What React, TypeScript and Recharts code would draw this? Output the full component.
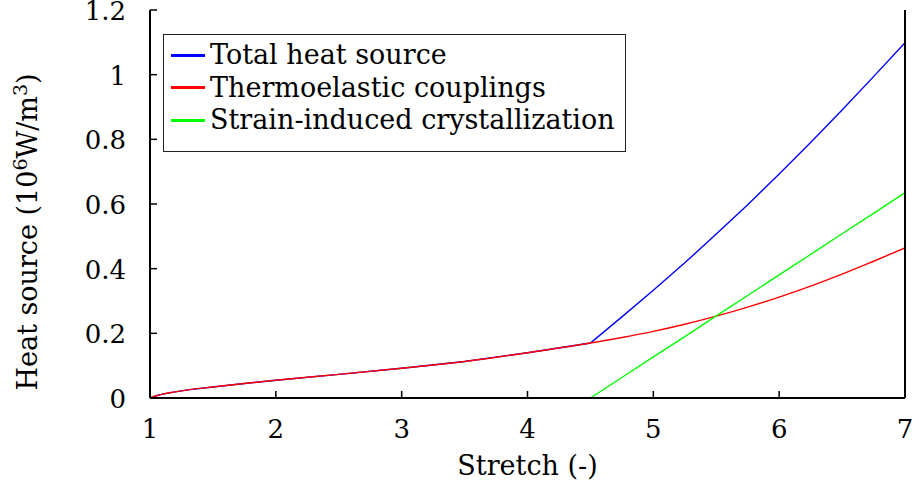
import React from 'react';
import { LineChart, Line, XAxis, YAxis, Legend } from 'recharts';

const stretch = [1, 1.05, 1.1, 1.2, 1.3, 1.5, 1.75, 2, 2.5, 3, 3.5, 4, 4.5, 4.75, 5, 5.25, 5.5, 5.75, 6, 6.25, 6.5, 6.75, 7];
const thermoelastic = [0, 0.007, 0.012, 0.019, 0.025, 0.034, 0.045, 0.055, 0.073, 0.092, 0.113, 0.14, 0.17, 0.187, 0.206, 0.228, 0.253, 0.281, 0.312, 0.346, 0.383, 0.423, 0.464];
const crystallization = [0, 0, 0, 0, 0, 0, 0, 0, 0, 0, 0, 0, 0, 0.0635, 0.127, 0.19, 0.254, 0.317, 0.381, 0.444, 0.508, 0.571, 0.635];
const totalHeat = [0, 0.007, 0.012, 0.019, 0.025, 0.034, 0.045, 0.055, 0.073, 0.092, 0.113, 0.14, 0.17, 0.251, 0.333, 0.418, 0.507, 0.598, 0.693, 0.79, 0.891, 0.994, 1.099];

const xTicks = [1, 2, 3, 4, 5, 6, 7];
const yTicks = [0, 0.2, 0.4, 0.6, 0.8, 1, 1.2];
const yTickLabels = ['0', '0.2', '0.4', '0.6', '0.8', '1', '1.2'];

const seriesNames = ['Total heat source', 'Thermoelastic couplings', 'Strain-induced crystallization'];

const data = stretch.map((s, i) => ({
  s,
  total: totalHeat[i],
  thermo: thermoelastic[i],
  sic: crystallization[i],
}));

const FONT = 'DejaVu Serif';

const LeftTick = (props: any) => {
  const { x, y, payload } = props;
  const lbl = yTickLabels[yTicks.indexOf(payload.value)] ?? String(payload.value);
  return (
    <g>
      <line x1={x} x2={x + 7} y1={y} y2={y} stroke="#000" strokeWidth={1.5} />
      <text x={x - 24} y={y + 10} textAnchor="end" fontFamily={FONT} fontSize={26} fill="#000">
        {lbl}
      </text>
    </g>
  );
};

const RightTick = (props: any) => {
  const { x, y } = props;
  return <line x1={x} x2={x - 7} y1={y} y2={y} stroke="#000" strokeWidth={1.5} />;
};

const BottomTick = (props: any) => {
  const { x, y, payload } = props;
  return (
    <g>
      <line x1={x} x2={x} y1={y} y2={y - 7} stroke="#000" strokeWidth={1.5} />
      <text x={x} y={y + 40} textAnchor="middle" fontFamily={FONT} fontSize={26} fill="#000">
        {payload.value}
      </text>
    </g>
  );
};

const TopTick = (props: any) => {
  const { x, y } = props;
  return <line x1={x} x2={x} y1={y} y2={y + 7} stroke="#000" strokeWidth={1.5} />;
};

const YLabel = () => (
  <text transform="translate(37, 232) rotate(-90)" textAnchor="middle" fontFamily={FONT} fontSize={27} fill="#000">
    Heat source (10
    <tspan dy={-10} fontSize={19}>6</tspan>
    <tspan dy={10}>W/m</tspan>
    <tspan dy={-10} fontSize={19}>3</tspan>
    <tspan dy={10}>)</tspan>
  </text>
);

const LegendBox = () => {
  const colors = ['#0000ff', '#ff0000', '#00ff00'];
  return (
    <div
      style={{
        width: 461,
        height: 112,
        border: '1.3px solid #222',
        background: '#fff',
        boxSizing: 'content-box',
        paddingTop: 4,
        fontFamily: FONT,
        fontSize: 27,
        color: '#000',
      }}
    >
      {seriesNames.map((n, i) => (
        <div key={n} style={{ display: 'flex', alignItems: 'center', height: 32.5, lineHeight: '32.5px' }}>
          <div style={{ width: 34, height: 3, background: colors[i], marginLeft: 7, marginRight: 5 }} />
          <span style={{ whiteSpace: 'nowrap' }}>{n}</span>
        </div>
      ))}
    </div>
  );
};

export default function App() {
  return (
    <div style={{ position: 'fixed', left: 0, top: 0, background: '#fff' }}>
      <LineChart width={919} height={485} data={data} margin={{ top: 10, right: 0, bottom: 0, left: 0 }}>
        <XAxis
          dataKey="s"
          type="number"
          domain={[1, 7]}
          ticks={xTicks}
          height={87}
          tickSize={0}
          tickMargin={0}
          tick={<BottomTick />}
          axisLine={{ stroke: '#000', strokeWidth: 2 }}
          tickLine={false}
          allowDataOverflow
          label={{ value: 'Stretch (-)', position: 'insideBottom', offset: 10, fontFamily: FONT, fontSize: 27, fill: '#000' }}
        />
        <XAxis
          xAxisId="t"
          dataKey="s"
          type="number"
          orientation="top"
          domain={[1, 7]}
          ticks={xTicks}
          height={0}
          tickSize={0}
          tickMargin={0}
          tick={<TopTick />}
          axisLine={{ stroke: '#000', strokeWidth: 2 }}
          tickLine={false}
        />
        <YAxis
          type="number"
          domain={[0, 1.2]}
          ticks={yTicks}
          width={150}
          tickSize={0}
          tickMargin={0}
          tick={<LeftTick />}
          axisLine={{ stroke: '#000', strokeWidth: 2 }}
          tickLine={false}
          allowDataOverflow
          label={<YLabel />}
        />
        <YAxis
          yAxisId="r"
          type="number"
          orientation="right"
          domain={[0, 1.2]}
          ticks={yTicks}
          width={14}
          tickSize={0}
          tickMargin={0}
          tick={<RightTick />}
          axisLine={{ stroke: '#000', strokeWidth: 2 }}
          tickLine={false}
        />
        <Legend
          layout="horizontal"
          verticalAlign="middle"
          align="center"
          content={<LegendBox />}
          wrapperStyle={{ position: 'absolute', left: 163, top: 34, width: 'auto', height: 'auto' }}
        />
        <Line dataKey="total" name={seriesNames[0]} stroke="#0000ff" strokeWidth={1.4} dot={false} type="linear" isAnimationActive={false} />
        <Line dataKey="thermo" name={seriesNames[1]} stroke="#ff0000" strokeWidth={1.4} dot={false} type="monotone" isAnimationActive={false} />
        <Line dataKey="sic" name={seriesNames[2]} stroke="#00ff00" strokeWidth={1.4} dot={false} type="linear" isAnimationActive={false} />
      </LineChart>
    </div>
  );
}
